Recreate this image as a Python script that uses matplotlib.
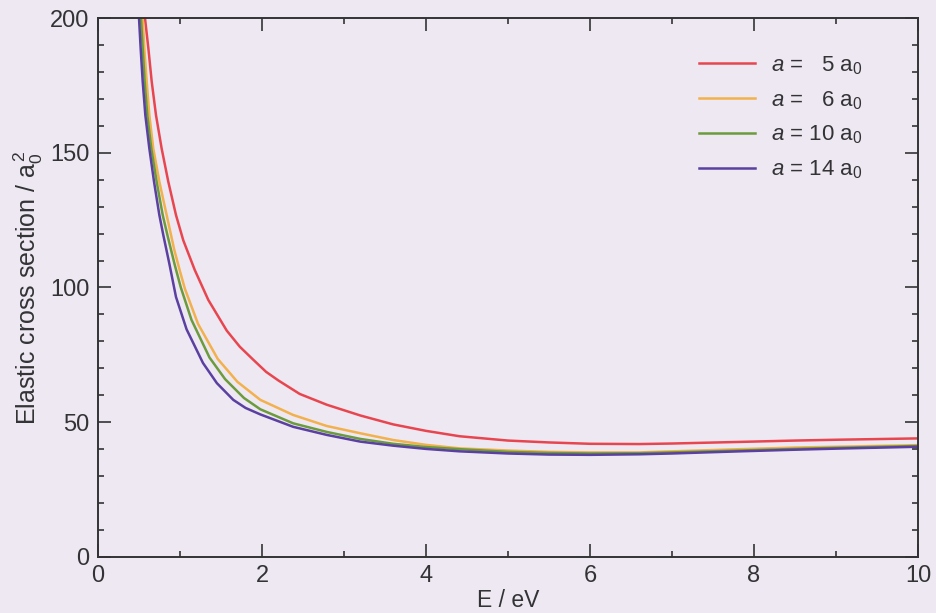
import matplotlib
matplotlib.use("Agg")
import matplotlib.pyplot as plt
from matplotlib.ticker import MultipleLocator

plt.rcParams["font.family"] = ["Liberation Sans", "DejaVu Sans"]
plt.rcParams["mathtext.fontset"] = "custom"
plt.rcParams["mathtext.rm"] = "Liberation Sans"
plt.rcParams["mathtext.it"] = "Liberation Sans:italic"

# Values (E in eV, cross section in a0^2)
energy_5 = [0.573, 0.614, 0.655, 0.707, 0.776, 0.857, 0.951, 1.04, 1.18, 1.345, 1.57, 1.73, 1.89, 2.05, 2.2, 2.46,
            2.79, 3.2, 3.6, 4.0, 4.41, 5.0, 5.5, 6.0, 6.6, 7.0, 7.83, 8.5, 9.0, 10.0]
sigma_5 = [200, 188.8, 176.4, 164, 151.6, 139.3, 126.9, 117.5, 106.5, 95.4, 84.0, 78.0, 73.3, 68.7, 65.5, 60.5,
           56.5, 52.5, 49.2, 46.8, 44.8, 43.2, 42.5, 42.0, 41.9, 42.1, 42.7, 43.2, 43.5, 44.0]

energy_6 = [0.545, 0.565, 0.594, 0.626, 0.674, 0.748, 0.837, 0.93, 1.0, 1.06, 1.22, 1.46, 1.7, 1.98, 2.38, 2.79,
            3.2, 3.6, 4.0, 4.41, 5.0, 5.5, 6.0, 6.6, 7.0, 7.83, 8.5, 9.0, 10.0]
sigma_6 = [200, 188.8, 176.4, 164, 151.6, 139.3, 126.9, 114, 106, 99.5, 86.5, 73.5, 65, 58.3, 52.7, 48.6,
           45.9, 43.4, 41.6, 40.3, 39.5, 39.0, 38.8, 38.8, 39.2, 40.0, 40.6, 40.9, 41.5]

energy_10 = [0.524, 0.545, 0.569, 0.601, 0.65, 0.715, 0.789, 0.85, 0.935, 1.01, 1.14, 1.36, 1.55, 1.78, 1.98, 2.38,
             2.79, 3.2, 3.6, 4.0, 4.41, 5.0, 5.5, 6.0, 6.6, 7.0, 7.83, 8.5, 9.0, 10.0]
sigma_10 = [200, 188.8, 176.4, 164, 151.6, 139.3, 126.9, 119, 108.5, 100, 88, 74, 66, 59, 54.8, 49.6,
            46.4, 43.8, 42.0, 40.8, 40.0, 39.0, 38.6, 38.4, 38.5, 38.8, 39.5, 40.1, 40.5, 41.2]

energy_14 = [0.5, 0.52, 0.545, 0.577, 0.626, 0.683, 0.748, 0.796, 0.869, 0.951, 1.08, 1.28, 1.45, 1.65, 1.8, 1.98,
             2.38, 2.79, 3.2, 3.6, 4.0, 4.41, 5.0, 5.5, 6.0, 6.6, 7.0, 7.83, 8.5, 9.0, 10.0]
sigma_14 = [200, 188.8, 176.4, 164, 151.6, 139.3, 126.9, 119.5, 109, 96.5, 84.5, 72, 64.5, 58.3, 55.3, 52.9,
            48.3, 45.3, 42.8, 41.3, 40.1, 39.2, 38.4, 38.0, 37.9, 38.1, 38.4, 39.2, 39.8, 40.2, 40.9]

labels = [r"$\it{a}$ =   5 a$_0$", r"$\it{a}$ =   6 a$_0$", r"$\it{a}$ = 10 a$_0$", r"$\it{a}$ = 14 a$_0$"]
colors = ["#e8464f", "#f2b14c", "#6b9b3c", "#5a40a0"]

bg = "#eee8f3"
ink = "#333335"

fig = plt.figure(figsize=(9.37, 6.13), dpi=100, facecolor=bg)
ax = fig.add_axes([0.1046, 0.0914, 0.875, 0.8792], facecolor=bg)

series = [(energy_5, sigma_5), (energy_6, sigma_6), (energy_10, sigma_10), (energy_14, sigma_14)]
for (e, s), lab, c in zip(series, labels, colors):
    ax.plot(e, s, color=c, lw=1.8, label=lab)

ax.set_xlim(0, 10)
ax.set_ylim(0, 200)
ax.xaxis.set_major_locator(MultipleLocator(2))
ax.xaxis.set_minor_locator(MultipleLocator(1))
ax.yaxis.set_major_locator(MultipleLocator(50))
ax.yaxis.set_minor_locator(MultipleLocator(10))
ax.tick_params(which="both", direction="in", top=True, right=True, color=ink, width=1.2)
ax.tick_params(which="major", length=9.5, labelsize=17, labelcolor=ink, pad=6)
ax.tick_params(which="minor", length=4.5)
for sp in ax.spines.values():
    sp.set_color(ink)
    sp.set_linewidth(1.4)

ax.set_xlabel("E / eV", fontsize=16.5, color=ink, labelpad=1)
ax.set_ylabel(r"Elastic cross section / a$_0^{\,2}$", fontsize=18, color=ink, labelpad=4)

leg = ax.legend(loc="upper right", bbox_to_anchor=(0.956, 0.97), frameon=False, fontsize=16,
                handlelength=2.5, handletextpad=0.7, labelspacing=0.55, labelcolor=ink)

fig.savefig("out.png", dpi=100, facecolor=bg)
